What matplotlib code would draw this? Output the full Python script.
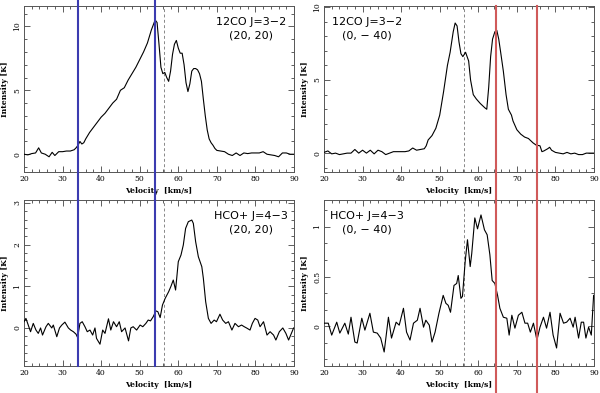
import matplotlib
matplotlib.use("Agg")
import matplotlib.pyplot as plt
from matplotlib.ticker import MultipleLocator, FormatStrFormatter

# 12CO J=3-2 at (20, 20)
co_a_vel = [20, 21, 22, 23, 23.8, 24.5, 25.5, 26.5, 27.3, 28, 29, 30, 31, 32, 33, 33.5,
            34, 34.5, 35, 35.5, 36, 37, 38, 39, 40, 41, 42, 43, 44, 45, 46, 47, 48, 49,
            50, 51, 52, 53, 54, 54.5, 55, 55.5, 56, 56.5, 57, 57.5, 58, 58.5, 59, 59.5,
            60, 60.5, 61, 61.5, 62, 62.5, 63, 63.5, 64, 64.5, 65, 65.5, 66, 66.5, 67,
            67.5, 68, 68.5, 69, 69.5, 70, 71, 72, 73, 74, 75, 76, 77, 78, 79, 80, 81,
            82, 83, 84, 85, 86, 87, 88, 89, 90]
co_a_int = [0.0, -0.05, 0.05, 0.1, 0.5, 0.1, 0.0, -0.2, 0.15, -0.1, 0.2, 0.2, 0.25, 0.25,
            0.35, 0.5, 0.7, 1.0, 0.8, 0.9, 1.2, 1.7, 2.1, 2.5, 2.9, 3.2, 3.6, 4.0, 4.3,
            5.0, 5.2, 5.8, 6.3, 6.8, 7.4, 8.0, 8.7, 9.7, 10.5, 10.3, 8.6, 6.8, 6.3, 6.4,
            6.0, 5.7, 6.5, 7.8, 8.6, 8.9, 8.3, 7.9, 7.9, 7.0, 5.6, 4.9, 5.5, 6.5, 6.7,
            6.7, 6.6, 6.3, 5.7, 4.3, 3.0, 1.9, 1.2, 0.9, 0.7, 0.45, 0.3, 0.25, 0.2, 0.0,
            -0.1, 0.1, -0.1, 0.1, 0.05, 0.1, 0.1, 0.1, 0.2, 0.0, -0.05, -0.1, -0.2, 0.1,
            0.1, 0.0, 0.0]

# 12CO J=3-2 at (0, -40)
co_b_vel = [20, 21, 22, 23, 24, 25, 26, 27, 28, 29, 30, 31, 32, 33, 34, 35, 36, 37, 38,
            39, 40, 41, 42, 43, 44, 45, 46, 46.5, 47, 48, 49, 50, 51, 52, 52.7, 53.5,
            54, 54.5, 55, 55.5, 56, 56.7, 57.5, 58, 58.7, 59.5, 60.5, 61.7, 62.2, 62.7,
            63.2, 63.7, 64.3, 64.8, 65.3, 65.8, 66.5, 67.2, 67.8, 68.6, 69, 70, 71, 72,
            73, 74.2, 75, 76, 76.5, 77, 78, 78.5, 79, 80, 81, 82, 83, 84, 85, 86, 87, 88,
            89, 90]
co_b_int = [0.05, 0.15, -0.05, 0.0, -0.1, -0.05, 0.0, 0.0, 0.25, 0.0, 0.2, 0.0, 0.2,
            -0.05, 0.2, 0.1, -0.1, 0.0, 0.1, 0.1, 0.1, 0.1, 0.15, 0.35, 0.2, 0.25, 0.3,
            0.5, 0.9, 1.2, 1.7, 2.6, 4.2, 6.0, 6.9, 8.3, 8.9, 8.7, 7.6, 6.8, 6.6, 6.9,
            6.3, 5.0, 4.0, 3.7, 3.4, 3.1, 3.0, 4.5, 6.6, 7.8, 8.3, 8.4, 7.8, 6.9, 5.6,
            4.0, 3.0, 2.6, 2.2, 1.6, 1.3, 1.1, 1.0, 0.7, 0.55, 0.5, 0.1, 0.15, 0.3, 0.4,
            0.2, 0.05, 0.0, -0.05, 0.05, -0.05, 0.0, -0.1, -0.1, 0.0, 0.0, 0.0]

# HCO+ J=4-3 at (20, 20)
hco_a_vel = [20, 20.5, 21.1, 21.7, 22.4, 23.1, 23.7, 24.3, 24.8, 25.7, 26.3, 27.2, 27.6,
             28.5, 29.2, 29.8, 30.6, 31.5, 32.1, 32.8, 33.5, 33.9, 34.5, 35.1, 35.8,
             36.4, 37.1, 37.8, 38.4, 38.8, 39.7, 40.4, 41, 41.9, 42.5, 43.2, 44, 44.7,
             45.3, 46.2, 47.1, 47.7, 48.3, 49.2, 50.1, 50.8, 51.6, 52.2, 52.8, 53.5,
             54.2, 54.7, 55.3, 55.9, 56.6, 57.5, 58.1, 58.7, 59.3, 60, 60.7, 61.3, 61.9,
             62.6, 63.5, 63.9, 64.5, 65.2, 66.1, 66.5, 67.1, 67.8, 68.5, 69.3, 69.9,
             70.8, 71.5, 72.3, 73, 73.9, 74.7, 75.6, 76.4, 77.1, 77.7, 78.6, 79.2, 79.9,
             80.6, 81.2, 82.1, 83, 83.8, 84.7, 85.3, 86.2, 87.1, 87.9, 88.6, 89.5, 89.9]
hco_a_int = [0.15, 0.23, 0.07, -0.09, 0.11, -0.05, -0.13, 0.0, -0.17, 0.03, 0.11, 0.0,
             0.07, -0.21, 0.0, 0.07, 0.14, 0.0, -0.05, -0.09, -0.15, -0.23, 0.11, 0.15,
             0.03, -0.09, -0.05, -0.17, 0.0, -0.25, -0.39, -0.05, -0.13, 0.22, -0.05,
             0.15, 0.03, 0.15, -0.09, 0.0, -0.31, 0.0, 0.03, -0.05, 0.07, 0.03, 0.11,
             0.19, 0.17, 0.27, 0.41, 0.39, 0.25, 0.55, 0.71, 0.87, 1.0, 1.15, 0.91, 1.59,
             1.75, 1.99, 2.39, 2.55, 2.59, 2.51, 2.07, 1.71, 1.47, 1.19, 0.63, 0.23,
             0.11, 0.19, 0.15, 0.33, 0.19, 0.11, 0.15, -0.05, 0.11, 0.03, 0.07, 0.03,
             0.0, -0.05, 0.11, 0.23, 0.19, 0.03, 0.15, -0.17, -0.09, -0.17, -0.29,
             -0.09, 0.0, -0.13, -0.29, -0.09, 0.0]

# HCO+ J=4-3 at (0, -40)
hco_b_vel = [20, 21.1, 22, 23.3, 24.1, 25.4, 26.3, 27, 28, 28.6, 29.8, 30.6, 31.9, 32.8,
             33.8, 34.7, 35.6, 36.7, 37.5, 38.7, 39.5, 40.6, 41.4, 42.3, 43.2, 44.2,
             44.9, 45.8, 46.4, 47.3, 48, 48.8, 49.8, 50.9, 51.6, 52.2, 52.8, 53.7, 54.4,
             54.8, 55.5, 55.9, 56.6, 57.2, 57.9, 58.3, 59.1, 59.8, 60.7, 61.6, 62.3, 63,
             63.6, 64.3, 65, 65.6, 66.5, 67.4, 68, 68.7, 69.5, 70.4, 71.3, 72.1, 72.8,
             73.5, 74.3, 75.2, 76, 76.9, 77.7, 78.6, 79.4, 80.3, 81.2, 82.1, 82.9, 83.8,
             84.6, 85.1, 86, 86.7, 87.3, 87.9, 88.6, 89.3, 89.9]
hco_b_int = [0.03, 0.03, -0.09, 0.04, -0.07, 0.03, -0.08, 0.09, -0.16, -0.17, 0.08,
             -0.04, 0.13, -0.06, -0.07, -0.12, -0.26, 0.09, -0.12, 0.04, 0.01, 0.18,
             -0.06, -0.14, 0.03, 0.06, 0.18, -0.01, 0.06, 0.01, -0.16, -0.06, 0.13, 0.31,
             0.23, 0.21, 0.14, 0.41, 0.43, 0.51, 0.28, 0.30, 0.65, 0.87, 0.60, 0.73,
             1.09, 0.98, 1.12, 0.97, 0.92, 0.72, 0.46, 0.43, 0.31, 0.18, 0.09, 0.08,
             -0.09, 0.11, -0.02, 0.11, 0.14, 0.03, 0.03, -0.06, 0.03, -0.14, -0.01, 0.09,
             -0.02, 0.14, -0.09, -0.22, 0.13, 0.03, 0.04, 0.08, -0.01, 0.09, -0.12, 0.04,
             0.04, -0.12, -0.01, -0.09, 0.31]

line_names = ["12CO J=3\u22122", "12CO J=3\u22122", "HCO+ J=4\u22123", "HCO+ J=4\u22123"]
positions = ["(20, 20)", "(0, \u2212 40)", "(20, 20)", "(0, \u2212 40)"]
ylims = [(-1.4, 11.6), (-1.3, 10.07), (-0.91, 3.07), (-0.4, 1.27)]
ymajor = [5, 5, 1, 0.5]
yminor = [1, 1, 0.2, 0.5 / 3]

blue_vel = [34.0, 54.0]
red_vel = [64.6, 75.3]
v_sys = 56.2

fig = plt.figure(figsize=(6.0, 3.93), dpi=100)
boxes = [
    [0.04, 0.562, 0.45, 0.423],
    [0.54, 0.562, 0.45, 0.423],
    [0.04, 0.069, 0.45, 0.422],
    [0.54, 0.069, 0.45, 0.422],
]
spectra = [(co_a_vel, co_a_int), (co_b_vel, co_b_int),
           (hco_a_vel, hco_a_int), (hco_b_vel, hco_b_int)]
label_font = dict(family="DejaVu Serif", size=5.5, weight="bold")

for i, box in enumerate(boxes):
    ax = fig.add_axes(box)
    vel, inten = spectra[i]
    ax.plot(vel, inten, color="black", lw=0.8, zorder=3)
    ax.set_xlim(20, 90)
    ax.set_ylim(*ylims[i])
    ax.axvline(v_sys, color="#888888", lw=0.7, ls=(0, (3, 2.5)), zorder=2)

    # marker lines that run across both rows
    left = i % 2 == 0
    top = i < 2
    for v in (blue_vel if left else red_vel):
        color = "#3b3bb0" if left else "#d05a5a"
        if left:
            lo, hi = (-0.2, 1.04) if top else (0.0, 1.0)
        else:
            lo, hi = (-0.2, 1.0) if top else (-0.17, 1.0)
        ax.axvline(v, ymin=lo, ymax=hi, color=color, lw=1.5, clip_on=False, zorder=4)

    ax.xaxis.set_major_locator(MultipleLocator(10))
    ax.xaxis.set_minor_locator(MultipleLocator(2))
    ax.yaxis.set_major_locator(MultipleLocator(ymajor[i]))
    ax.yaxis.set_minor_locator(MultipleLocator(yminor[i]))
    ax.yaxis.set_major_formatter(FormatStrFormatter("%g"))
    ax.tick_params(which="both", direction="in", top=True, right=True,
                   colors="#444444", width=0.6)
    ax.tick_params(which="major", length=4, pad=2)
    ax.tick_params(which="minor", length=2)
    for lab in ax.get_xticklabels() + ax.get_yticklabels():
        lab.set_fontfamily("DejaVu Serif")
        lab.set_fontsize(5.5)
        lab.set_color("black")
    for lab in ax.get_yticklabels():
        lab.set_rotation(90)
        lab.set_va("center")
    for s in ax.spines.values():
        s.set_color("#555555")
        s.set_linewidth(0.7)

    ax.set_xlabel("Velocity  [km/s]", labelpad=3, **label_font)
    ax.set_ylabel("Intensity [K]", labelpad=3, **label_font)

    tx = 0.84 if left else 0.16
    ax.text(tx, 0.905, line_names[i], transform=ax.transAxes, ha="center",
            va="center", fontsize=8, family="DejaVu Sans")
    ax.text(tx, 0.82, positions[i], transform=ax.transAxes, ha="center",
            va="center", fontsize=8, family="DejaVu Sans")

plt.savefig("out.png", dpi=100)
